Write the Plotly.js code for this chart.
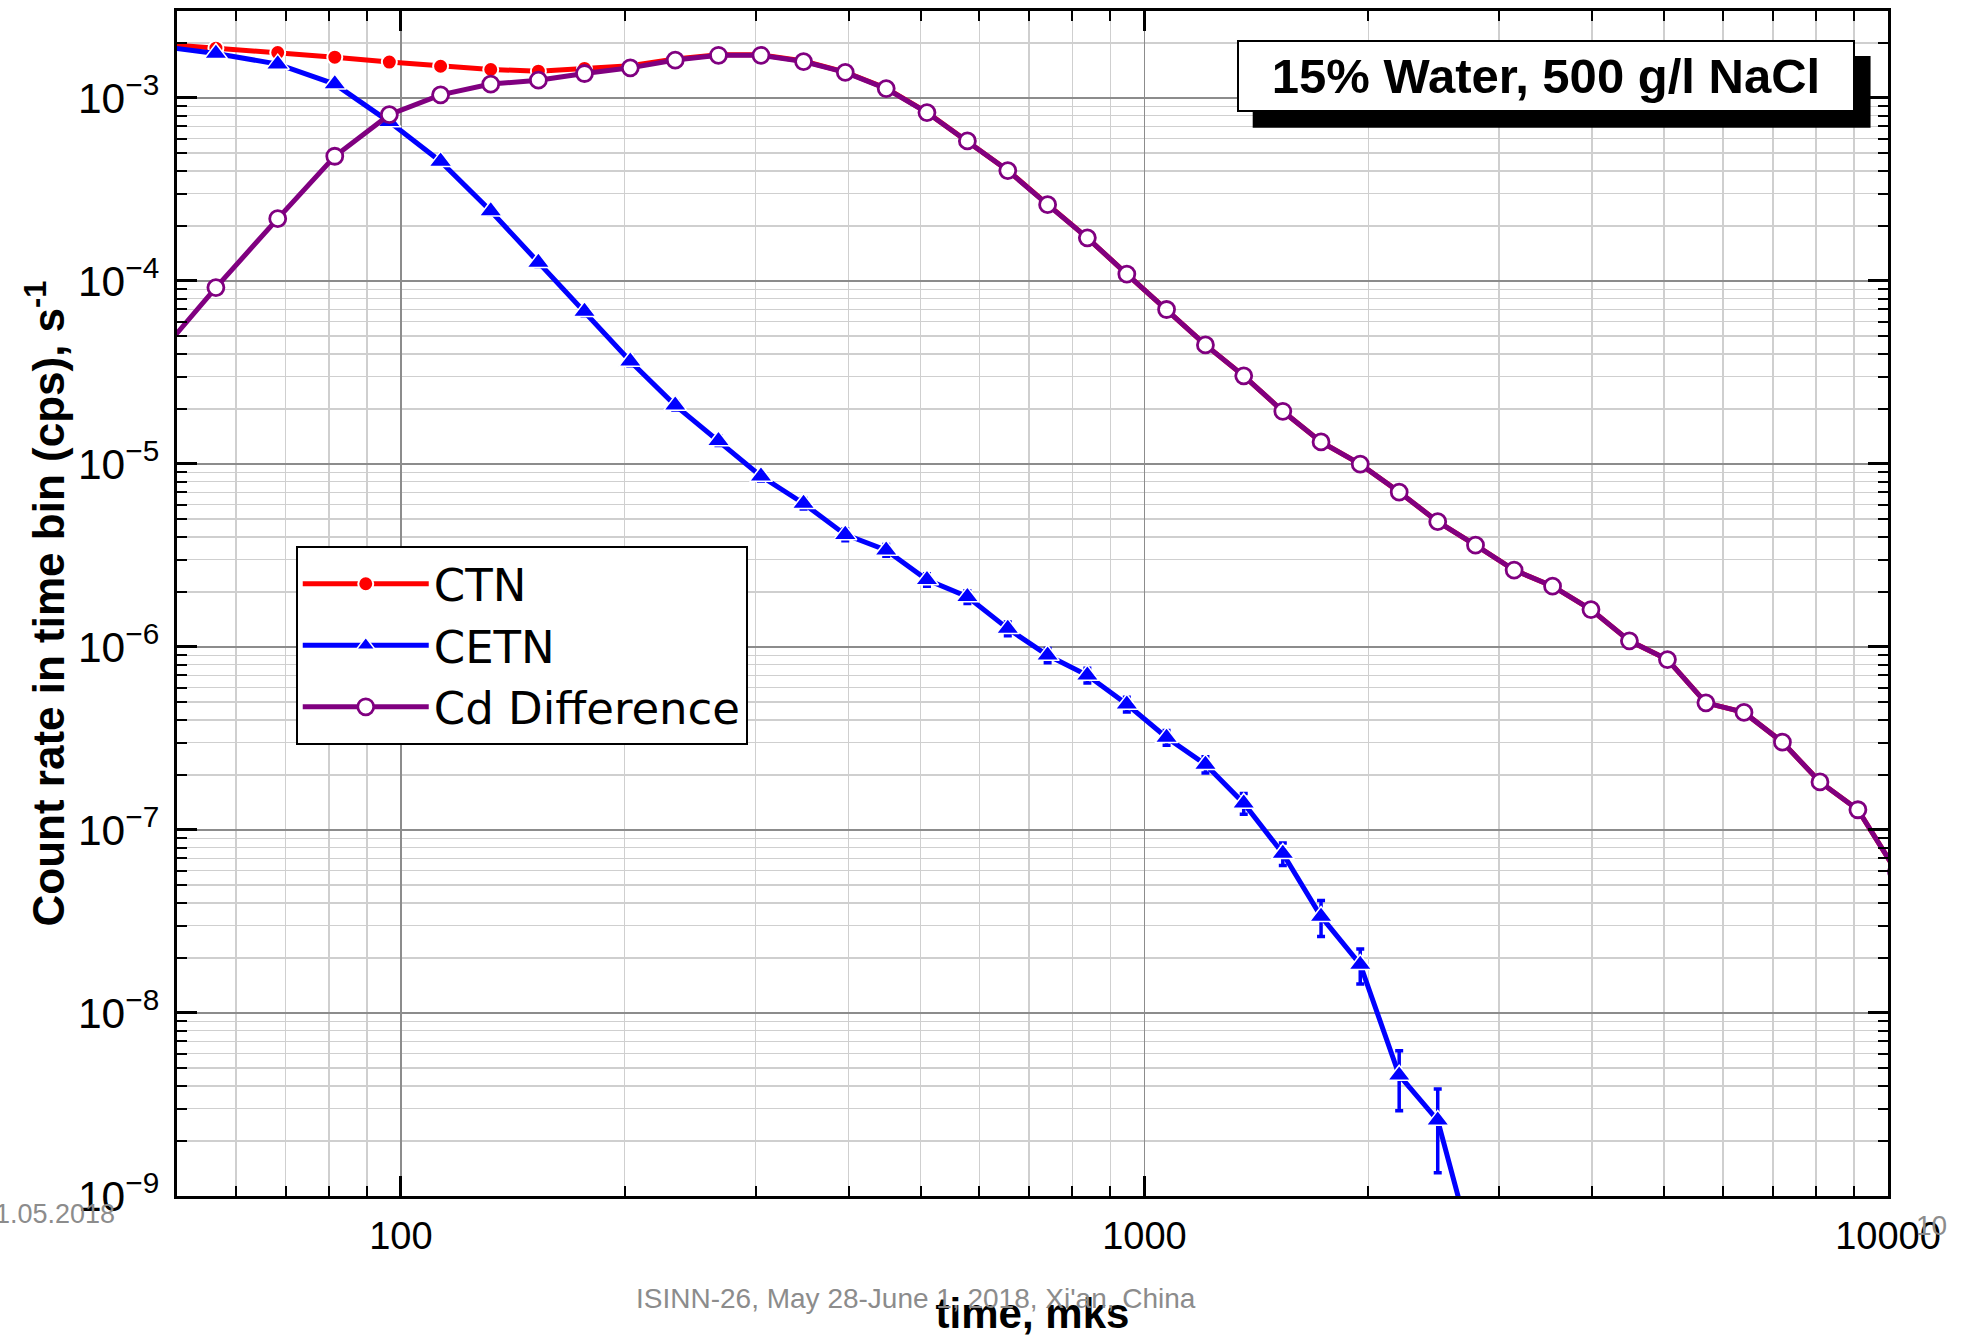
<!DOCTYPE html>
<html><head><meta charset="utf-8">
<script src="https://cdn.plot.ly/plotly-3.0.1.min.js"></script>
<style>html,body{margin:0;padding:0;background:#fff;}#chart{width:1973px;height:1337px;}</style>
</head><body><div id="chart"></div>
<script>
// time bins, microseconds
const timeMks = [46.6, 56.4, 68.3, 81.5, 96.5, 113.1, 132.1, 153.1, 176.6, 203.5,
  233.9, 267.4, 305, 348, 396, 449.5, 510, 578, 655, 741,
  838, 947, 1071, 1208, 1360, 1535, 1728, 1951, 2201, 2480,
  2788, 3142, 3539, 3986, 4490, 5051, 5690, 6402, 7211, 8101,
  9110, 10270];

// CTN count rate, s^-1
const ctn = [1.98e-3, 1.87e-3, 1.77e-3, 1.67e-3, 1.57e-3, 1.49e-3, 1.43e-3, 1.40e-3, 1.45e-3, 1.50e-3,
  1.63e-3, 1.72e-3, 1.72e-3, 1.59e-3, 1.385e-3, 1.128e-3, 8.34e-4, 5.84e-4, 4.02e-4, 2.62e-4,
  1.72e-4, 1.09e-4, 6.98e-5, 4.47e-5, 3.03e-5, 1.94e-5, 1.32e-5, 9.97e-6, 7.02e-6, 4.84e-6,
  3.60e-6, 2.63e-6, 2.15e-6, 1.60e-6, 1.08e-6, 8.53e-7, 4.95e-7, 4.39e-7, 3.02e-7, 1.83e-7,
  1.29e-7, 5.9e-8];

// CETN count rate, s^-1 (first 31 time bins)
const cetn = [1.93e-3, 1.75e-3, 1.53e-3, 1.19e-3, 7.4e-4, 4.5e-4, 2.41e-4, 1.26e-4, 6.8e-5, 3.64e-5,
  2.09e-5, 1.34e-5, 8.57e-6, 6.08e-6, 4.11e-6, 3.38e-6, 2.33e-6, 1.88e-6, 1.26e-6, 9.0e-7,
  7.0e-7, 4.86e-7, 3.2e-7, 2.28e-7, 1.40e-7, 7.44e-8, 3.37e-8, 1.84e-8, 4.57e-9, 2.59e-9,
  4.4e-10];
const cetnErr = [3e-5, 3e-5, 3e-5, 3e-5, 2e-5, 1.5e-5, 1e-5, 6e-6, 3.5e-6, 2e-6,
  1.2e-6, 8e-7, 5e-7, 4e-7, 3e-7, 2.5e-7, 1.8e-7, 1.5e-7, 1.1e-7, 8e-8,
  6.5e-8, 4.5e-8, 3e-8, 2.3e-8, 1.8e-8, 1.05e-8, 7.5e-9, 4e-9, 1.65e-9, 1.25e-9,
  0];

// Cd Difference count rate, s^-1
const cdDiff = [3.7e-5, 9.2e-5, 2.19e-4, 4.8e-4, 8.1e-4, 1.04e-3, 1.19e-3, 1.25e-3, 1.36e-3, 1.46e-3,
  1.61e-3, 1.71e-3, 1.71e-3, 1.58e-3, 1.38e-3, 1.125e-3, 8.32e-4, 5.82e-4, 4.01e-4, 2.61e-4,
  1.72e-4, 1.09e-4, 6.98e-5, 4.47e-5, 3.03e-5, 1.94e-5, 1.32e-5, 9.97e-6, 7.02e-6, 4.84e-6,
  3.60e-6, 2.63e-6, 2.15e-6, 1.60e-6, 1.08e-6, 8.53e-7, 4.95e-7, 4.39e-7, 3.02e-7, 1.83e-7,
  1.29e-7, 5.9e-8];

const seriesNames = ['CTN', 'CETN', 'Cd Difference'];
const titleText = '15% Water, 500 g/l NaCl';
const xTitle = 'time, mks';
const yTitle = 'Count rate in time bin (cps), s<sup>-1</sup>';

const FONT = 'Liberation Sans, Arial, sans-serif';

const traces = [
  {
    name: seriesNames[0], x: timeMks, y: ctn, type: 'scatter', mode: 'lines+markers',
    line: {color: '#ff0000', width: 5},
    marker: {symbol: 'circle', size: 15, color: '#ff0000', line: {color: '#ffffff', width: 2}}
  },
  {
    name: seriesNames[1], x: timeMks.slice(0, cetn.length), y: cetn, type: 'scatter', mode: 'lines+markers',
    line: {color: '#0000ff', width: 5},
    marker: {symbol: 'triangle-up', size: 20, color: '#0000ff', line: {color: '#ffffff', width: 1.5}},
    error_y: {type: 'data', array: cetnErr, visible: true, color: '#0000ff', thickness: 3.5, width: 4}
  },
  {
    name: seriesNames[2], x: timeMks, y: cdDiff, type: 'scatter', mode: 'lines+markers',
    line: {color: '#800080', width: 5},
    marker: {symbol: 'circle', size: 16, color: '#ffffff', line: {color: '#800080', width: 2.8}}
  }
];

const axisCommon = {
  type: 'log', dtick: 1,
  showline: true, linecolor: '#000', linewidth: 3, mirror: 'allticks',
  ticks: 'inside', ticklen: 20, tickwidth: 3, tickcolor: '#000',
  showgrid: true, gridcolor: '#8c8c8c', gridwidth: 1.5, zeroline: false,
  minor: {dtick: 'D1', ticks: 'inside', ticklen: 10, tickwidth: 2, tickcolor: '#000',
          showgrid: true, gridcolor: '#cfcfcf', gridwidth: 1.5},
  tickfont: {family: FONT, size: 38, color: '#000'}
};

const layout = {
  width: 1973, height: 1337,
  paper_bgcolor: '#fff', plot_bgcolor: '#fff',
  margin: {l: 177, r: 85, t: 11, b: 141, pad: 0},
  showlegend: true,
  xaxis: Object.assign({}, axisCommon, {
    range: [Math.log10(50), 4], tickformat: 'd', ticklabelstandoff: 4,
    title: {text: xTitle, font: {family: FONT, size: 42, color: '#000', weight: 'bold'}, standoff: 46}
  }),
  yaxis: Object.assign({}, axisCommon, {
    range: [-9, -2.525], exponentformat: 'power', showexponent: 'all', ticklabelstandoff: 8,
    tickfont: {family: FONT, size: 34, color: '#000'},
    title: {text: yTitle, font: {family: FONT, size: 44, color: '#000', weight: 'bold'}, standoff: 0}
  }),
  legend: {
    x: 0.0694, y: 0.5485, xanchor: 'left', yanchor: 'top',
    bgcolor: '#fff', bordercolor: '#000', borderwidth: 2,
    font: {family: 'DejaVu Sans, Liberation Sans, sans-serif', size: 45, color: '#000'},
    itemwidth: 126, tracegroupgap: 0
  },
  shapes: [
    {type: 'rect', xref: 'paper', yref: 'paper', x0: 0.6287, x1: 0.9898, y0: 0.9015, y1: 0.9620,
     fillcolor: '#000', line: {width: 0}, layer: 'above'}
  ],
  annotations: [
    {xref: 'paper', yref: 'paper', x: 0.8002, y: 0.9450, xanchor: 'center', yanchor: 'middle',
     text: '<b>' + titleText + '</b>', showarrow: false, width: 612, height: 66,
     bgcolor: '#fff', bordercolor: '#000', borderwidth: 2, borderpad: 1,
     font: {family: FONT, size: 49, color: '#000'}},
    {xref: 'paper', yref: 'paper', x: -0.0351, y: -0.0152, xanchor: 'right', yanchor: 'middle',
     text: '31.05.2018', showarrow: false, font: {family: FONT, size: 27, color: '#8c8c8c'}},
    {xref: 'paper', yref: 'paper', x: 1.0257, y: -0.0253, xanchor: 'center', yanchor: 'middle',
     text: '10', showarrow: false, font: {family: FONT, size: 28, color: '#8c8c8c'}},
    {xref: 'paper', yref: 'paper', x: 0.4319, y: -0.0869, xanchor: 'center', yanchor: 'middle',
     text: "ISINN-26, May 28-June 1, 2018, Xi'an, China", showarrow: false,
     font: {family: FONT, size: 28, color: '#8c8c8c'}}
  ]
};

Plotly.newPlot('chart', traces, layout, {staticPlot: true, displayModeBar: false});
</script>
</body></html>
